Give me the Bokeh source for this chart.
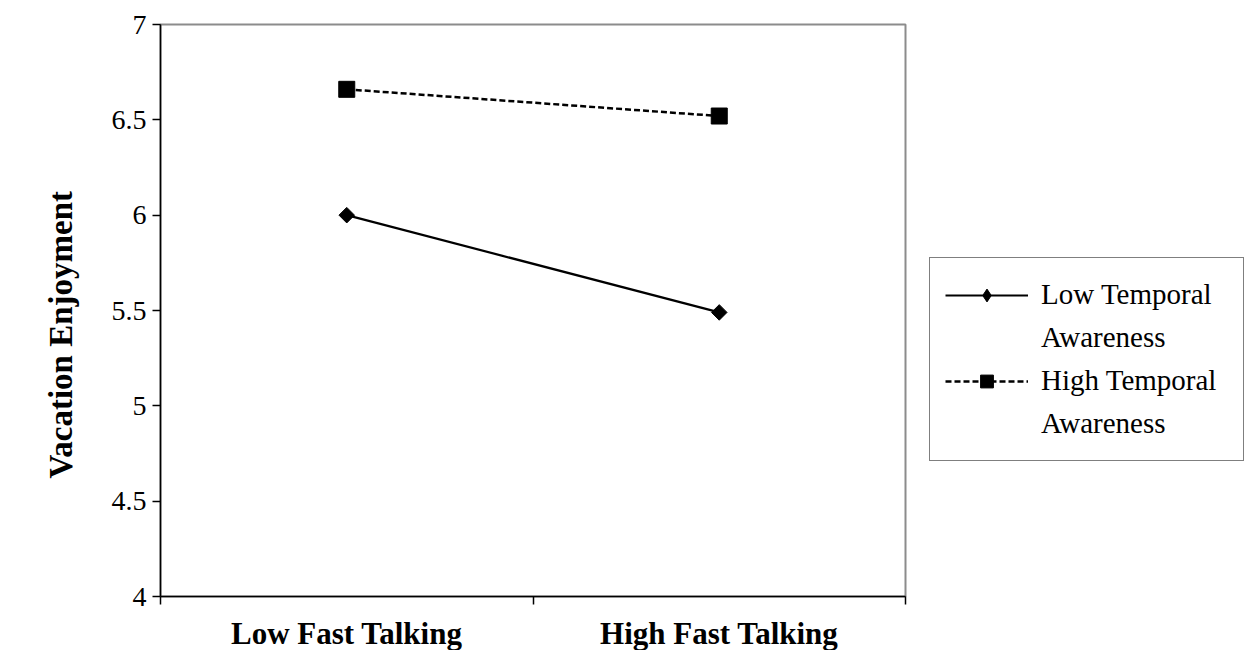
import math
from bokeh.plotting import figure
from bokeh.models import FixedTicker, Legend, LegendItem, Range1d, Title
from bokeh.embed import file_html
from bokeh.resources import INLINE

categories = ["Low Fast Talking", "High Fast Talking"]
series_label_lines = [["Low Temporal", "Awareness"], ["High Temporal", "Awareness"]]
low_temporal = [6.0, 5.49]
high_temporal = [6.66, 6.52]
y_ticks = [4, 4.5, 5, 5.5, 6, 6.5, 7]
y_tick_labels = ["4", "4.5", "5", "5.5", "6", "6.5", "7"]
y_title = "Vacation Enjoyment"

FONT = "Liberation Serif"

p = figure(width=1244, height=648, output_backend="svg", toolbar_location=None,
           x_range=Range1d(0, len(categories)), y_range=Range1d(4, 7),
           min_border_left=160, min_border_top=24, min_border_bottom=52, min_border_right=339)
p.frame_width = 745
p.frame_height = 572
p.grid.visible = False
p.outline_line_color = "#8c8c8c"
p.outline_line_width = 2
p.background_fill_color = "white"
p.border_fill_color = "white"

xs = [i + 0.5 for i in range(len(categories))]

# x axis
p.xaxis.ticker = FixedTicker(ticks=xs, minor_ticks=list(range(len(categories) + 1)))
p.xaxis.major_label_overrides = {x: c for x, c in zip(xs, categories)}
p.xaxis.major_tick_line_color = None
p.xaxis.minor_tick_in = 0
p.xaxis.minor_tick_out = 8
p.xaxis.minor_tick_line_color = "black"
p.xaxis.minor_tick_line_width = 1.5
p.xaxis.axis_line_color = "black"
p.xaxis.axis_line_width = 1.5
p.xaxis.major_label_text_font = FONT
p.xaxis.major_label_text_font_style = "bold"
p.xaxis.major_label_text_font_size = "31px"
p.xaxis.major_label_text_color = "black"
p.xaxis.major_label_standoff = 11

# y axis
p.yaxis.ticker = FixedTicker(ticks=y_ticks, minor_ticks=[])
p.yaxis.major_label_overrides = {t: l for t, l in zip(y_ticks, y_tick_labels)}
p.yaxis.major_tick_in = 0
p.yaxis.major_tick_out = 8
p.yaxis.major_tick_line_color = "black"
p.yaxis.major_tick_line_width = 1.5
p.yaxis.axis_line_color = "black"
p.yaxis.axis_line_width = 1.5
p.yaxis.major_label_text_font = FONT
p.yaxis.major_label_text_font_size = "28px"
p.yaxis.major_label_text_color = "black"
p.yaxis.major_label_standoff = 6

ytitle = Title(text=y_title, align="left", offset=118, standoff=56, vertical_align="top",
               text_font=FONT, text_font_style="bold", text_font_size="33px",
               text_color="black")
p.add_layout(ytitle, "left")

l1 = p.line(xs, low_temporal, line_color="black", line_width=2.2)
m1 = p.scatter(xs, low_temporal, marker="square", angle=math.pi / 4, size=11,
               fill_color="black", line_color="black")
# tiny diamond under the same points, so that the legend shows a diamond
m1_leg = p.scatter(xs, low_temporal, marker="diamond", size=1,
                   fill_color="black", line_color="black")
l2 = p.line(xs, high_temporal, line_color="black", line_width=2.5, line_dash="6 3")
m2 = p.scatter(xs, high_temporal, marker="square", size=16, fill_color="black", line_color="black")

legend = Legend(items=[LegendItem(label=series_label_lines[0][0], renderers=[l1, m1_leg]),
                       LegendItem(label=series_label_lines[0][1], renderers=[]),
                       LegendItem(label=series_label_lines[1][0], renderers=[l2, m2]),
                       LegendItem(label=series_label_lines[1][1], renderers=[])],
                location=(24, 135), orientation="vertical")
legend.border_line_color = "black"
legend.border_line_width = 1
legend.label_text_font = FONT
legend.label_text_font_size = "29px"
legend.label_text_color = "black"
legend.glyph_width = 83
legend.glyph_height = 32
legend.label_height = 43
legend.label_width = 187
legend.spacing = 0
legend.padding = 15
legend.margin = 0
legend.label_standoff = 13
p.add_layout(legend, "right")

open("out.html", "w").write(file_html(p, INLINE))
